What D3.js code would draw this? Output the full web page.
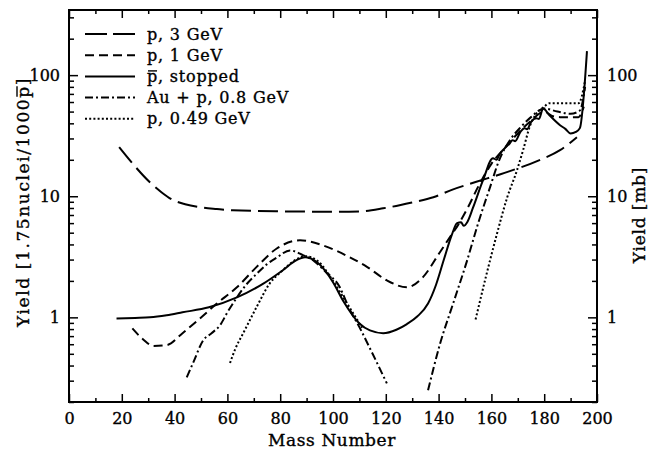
<!DOCTYPE html>
<html>
<head>
<meta charset="utf-8">
<script src="https://cdn.jsdelivr.net/npm/d3@7"></script>
<style>
  body { margin: 0; background: #fff; }
  svg text { font-family: "DejaVu Serif", serif; fill: #000; stroke: #000; stroke-width: 0.35px; }
</style>
</head>
<body>
<div id="vis"></div>
<script>
// ---- data: [mass number, yield] ----
var p3GeV = [[19, 25.4], [24, 18.7], [31, 12.8], [35, 10.8], [39, 9.4], [44, 8.6], [50, 8.1], [56, 7.85],
    [62, 7.66], [81, 7.5], [100, 7.45], [110, 7.5], [119, 7.95], [130, 8.9], [138, 9.8], [145, 11.3],
    [154, 13.1], [165, 15.6], [178, 19.8], [186, 24], [192.4, 30.7]];

var p1GeV = [[24, 0.81], [28, 0.66], [32, 0.58], [37, 0.59], [43, 0.74], [49.6, 0.98], [56, 1.3], [63.6, 1.77],
    [71, 2.6], [78.7, 3.7], [87.5, 4.33], [96, 3.94], [106.4, 3.13], [113, 2.6], [120.4, 2.02], [128, 1.77],
    [134, 2.14], [140.5, 3.45], [144.3, 4.6], [147.4, 5.8], [151, 8], [155, 12], [160, 18.5], [165, 25],
    [170, 33], [175, 42], [180, 50], [183, 46], [186, 45], [190, 45], [193, 45], [195, 55]];

var pbarStopped = [[18, 0.98], [25, 0.99], [30.7, 1.0], [37, 1.04], [43, 1.1], [53, 1.21], [63.6, 1.46],
    [73.6, 1.9], [81, 2.45], [86, 2.95], [89.4, 3.13], [94, 2.85], [100, 1.95], [104, 1.35], [110, 0.89],
    [114, 0.78], [119, 0.74], [124, 0.79], [128, 0.88], [132, 1.02], [136, 1.3], [139, 1.85], [142, 3.0],
    [145, 4.8], [147, 6.0], [148.5, 6.1], [149.5, 5.7], [151, 6.2], [153, 8], [156.8, 13.5], [160.6, 20.6],
    [162, 20], [163, 22], [167, 27.4], [168, 29], [169, 28.5], [171, 34], [172.5, 36.5], [173.5, 35.8],
    [175, 41], [177, 44], [178, 43.5], [179.6, 53], [182, 46.6], [186, 38.6], [188, 36], [190, 33],
    [192, 34], [193.5, 36.5], [196.2, 158]];

var auP_low = [[44.6, 0.32], [47, 0.42], [50.8, 0.645], [54, 0.74], [57.2, 0.86], [60, 1.1], [63.6, 1.46],
    [67, 1.85], [71.2, 2.3], [75, 2.75], [78.8, 3.13], [83.7, 3.57], [88.6, 3.26], [93, 2.9], [97, 2.4],
    [102.6, 1.77], [106, 1.2], [110, 0.83], [115, 0.5], [120.4, 0.285]];
var auP_high = [[136, 0.25], [140.5, 0.6], [145.5, 1.3], [150.7, 2.9], [155, 6.0], [159.5, 11.9],
    [163, 20], [167, 29], [171, 37], [175, 45], [180, 53], [185, 50], [190, 48], [193.5, 51], [195.5, 80]];

var p049_low = [[61, 0.42], [63, 0.55], [66, 0.74], [71, 1.21], [76, 1.9], [81, 2.45], [86, 3.0],
    [89.5, 3.2], [94, 2.95], [100, 2.0], [104, 1.45], [108, 1.05], [111, 0.82]];
var p049_high = [[154, 0.96], [158, 2.2], [162, 4.8], [166, 9.8], [169.7, 16.4], [172, 24], [174.6, 38],
    [177, 48], [180, 55], [182, 58.6], [187, 58.6], [193, 58.6], [195.5, 90]];

// legend labels; the 'p' in the third one gets a bar drawn over it
var legendNames = ['p, 3 GeV', 'p, 1 GeV', 'p, stopped', 'Au + p, 0.8 GeV', 'p, 0.49 GeV'];
var xMajor = [0, 20, 40, 60, 80, 100, 120, 140, 160, 180, 200];
var xMinor = [10, 30, 50, 70, 90, 110, 130, 150, 170, 190];
var yMajor = [1, 10, 100];
var yMinor = [0.2, 0.3, 0.4, 0.5, 0.6, 0.7, 0.8, 0.9, 2, 3, 4, 5, 6, 7, 8, 9, 20, 30, 40, 50, 60, 70, 80, 90, 200, 300];

// line styles, one per legend entry
var dashes = ['20,7', '9,5', null, '8,3,2,3', '2,2.2'];
var series = [[p3GeV], [p1GeV], [pbarStopped], [auP_low, auP_high], [p049_low, p049_high]];

var margin = { left: 69, top: 10, right: 58, bottom: 49 };
var width = 655, height = 451;
var drawWidth = width - margin.left - margin.right;
var drawHeight = height - margin.top - margin.bottom;

var svg = d3.select('#vis').append('svg')
    .attr('width', width)
    .attr('height', height);

var g = svg.append('g')
    .attr('transform', 'translate(' + margin.left + ',' + margin.top + ')');

var xScale = d3.scaleLinear().domain([0, 200]).range([0, drawWidth]);
var yScale = d3.scaleLog().domain([0.2, 345]).range([drawHeight, 0]);

// clip so nothing spills out of the frame
g.append('clipPath').attr('id', 'clip')
    .append('rect').attr('width', drawWidth).attr('height', drawHeight);

var line = d3.line()
    .x(function(d) { return xScale(d[0]); })
    .y(function(d) { return yScale(d[1]); })
    .curve(d3.curveMonotoneX);

var curves = g.append('g').attr('clip-path', 'url(#clip)');
series.forEach(function(segs, i) {
    segs.forEach(function(seg) {
        curves.append('path')
            .datum(seg)
            .attr('d', line)
            .attr('fill', 'none')
            .attr('stroke', '#000')
            .attr('stroke-width', 2)
            .attr('stroke-dasharray', dashes[i]);
    });
});

// axes: ticks point inward on all four sides
var drawAxis = function(axis, transform) {
    var a = g.append('g').attr('transform', transform).call(axis);
    a.select('.domain').remove();
    a.selectAll('.tick line').attr('stroke', '#000').attr('stroke-width', 1.5);
    return a;
};

drawAxis(d3.axisBottom(xScale).tickValues(xMajor).tickSize(-8).tickPadding(11).tickFormat(d3.format('d')),
    'translate(0,' + drawHeight + ')');
drawAxis(d3.axisBottom(xScale).tickValues(xMinor).tickSize(-4).tickFormat(''), 'translate(0,' + drawHeight + ')');
drawAxis(d3.axisTop(xScale).tickValues(xMajor).tickSize(-8).tickFormat(''), 'translate(0,0)');
drawAxis(d3.axisTop(xScale).tickValues(xMinor).tickSize(-4).tickFormat(''), 'translate(0,0)');

drawAxis(d3.axisLeft(yScale).tickValues(yMajor).tickSize(-9).tickPadding(9).tickFormat(d3.format('d')), 'translate(0,0)');
drawAxis(d3.axisLeft(yScale).tickValues(yMinor).tickSize(-5).tickFormat(''), 'translate(0,0)');
drawAxis(d3.axisRight(yScale).tickValues(yMajor).tickSize(-9).tickPadding(10).tickFormat(d3.format('d')),
    'translate(' + drawWidth + ',0)');
drawAxis(d3.axisRight(yScale).tickValues(yMinor).tickSize(-5).tickFormat(''), 'translate(' + drawWidth + ',0)');

g.selectAll('.tick text')
    .attr('fill', '#000')
    .attr('font-size', 16)
    .style('font-family', '"DejaVu Serif", serif');

// frame
g.append('rect')
    .attr('width', drawWidth)
    .attr('height', drawHeight)
    .attr('fill', 'none')
    .attr('stroke', '#000')
    .attr('stroke-width', 2);

// draw a bar over one character of a text element (antiproton symbol)
var overline = function(parent, text, index, y) {
    var box = text.node().getExtentOfChar(index);
    parent.append('line')
        .attr('x1', box.x + 1)
        .attr('x2', box.x + box.width - 1)
        .attr('y1', y).attr('y2', y)
        .attr('stroke', '#000')
        .attr('stroke-width', 1.4);
};

// axis titles
svg.append('text')
    .attr('x', margin.left + drawWidth / 2 - 1)
    .attr('y', 446)
    .attr('text-anchor', 'middle')
    .attr('font-size', 17)
    .attr('letter-spacing', 0.6)
    .text('Mass Number');

var yTitleG = svg.append('g')
    .attr('transform', 'translate(29,' + 202 + ') rotate(-90)');
var yTitle = yTitleG.append('text')
    .attr('text-anchor', 'middle')
    .attr('font-size', 17)
    .attr('letter-spacing', 1.6)
    .text('Yield [1.75nuclei/1000p]');
overline(yTitleG, yTitle, 22, -12);

svg.append('text')
    .attr('transform', 'translate(645,' + 215 + ') rotate(-90)')
    .attr('text-anchor', 'middle')
    .attr('font-size', 17)
    .attr('letter-spacing', 0.8)
    .text('Yield [mb]');

// legend
var legend = g.append('g').attr('transform', 'translate(16,24)');
legendNames.forEach(function(name, i) {
    var row = legend.append('g').attr('transform', 'translate(0,' + (i * 21.2) + ')');
    row.append('line')
        .attr('x1', 0).attr('x2', 50)
        .attr('stroke', '#000')
        .attr('stroke-width', 2)
        .attr('stroke-dasharray', i === 0 ? '22,6' : dashes[i]);
    var t = row.append('text')
        .attr('x', 62)
        .attr('y', 5.5)
        .attr('font-size', 16)
        .attr('letter-spacing', 0.8)
        .text(name);
    if (i === 2) overline(row, t, 0, -5.5);
});
</script>
</body>
</html>
